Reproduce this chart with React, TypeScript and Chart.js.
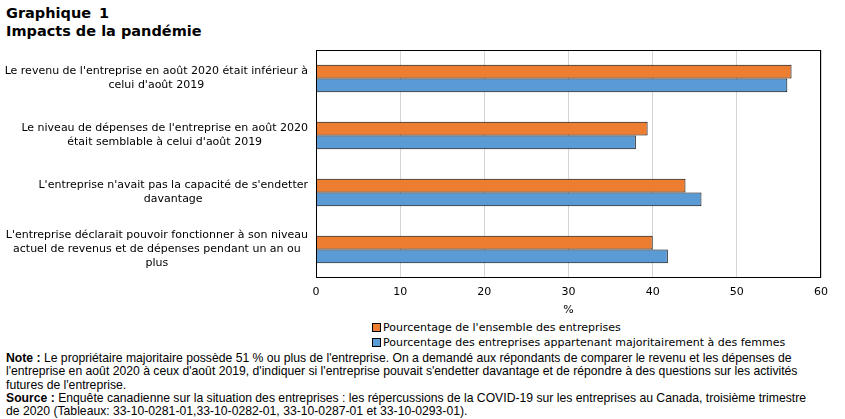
import React, { useEffect, useRef } from "react";
import { Chart, registerables } from "chart.js";

Chart.register(...registerables);

const titleLines = ["Graphique 1", "Impacts de la pandémie"];

const categories: string[][] = [
  ["Le revenu de l'entreprise en août 2020 était inférieur à", "celui d'août 2019"],
  ["Le niveau de dépenses de l'entreprise en août 2020", "était semblable à celui d'août 2019"],
  ["L'entreprise n'avait pas la capacité de s'endetter", "davantage"],
  [
    "L'entreprise déclarait pouvoir fonctionner à son niveau",
    "actuel de revenus et de dépenses pendant un an ou",
    "plus",
  ],
];

const seriesNames = [
  "Pourcentage de l'ensemble des entreprises",
  "Pourcentage des entreprises appartenant majoritairement à des femmes",
];

const allBusinesses = [56.5, 39.4, 43.9, 40.0];
const womenOwned = [56.0, 38.0, 45.8, 41.8];

const xMin = 0;
const xMax = 60;
const xStep = 10;
const xTitle = "%";

const colors = ["#ED7D31", "#5B9BD5"];

const FONT = "'DejaVu Sans', Verdana, sans-serif";

const labelPlugin = {
  id: "catLabels",
  afterDraw(chart: any) {
    const { ctx, chartArea } = chart;
    const yScale = chart.scales.y;
    ctx.save();
    ctx.font = `11px ${FONT}`;
    ctx.fillStyle = "#000";
    ctx.textAlign = "center";
    ctx.textBaseline = "middle";
    categories.forEach((lines, i) => {
      const yc = yScale.getPixelForValue(i);
      const maxW = Math.max(...lines.map((l) => ctx.measureText(l).width));
      const xc = chartArea.left - 8 - maxW / 2;
      lines.forEach((line, j) => {
        ctx.fillText(line, xc, yc + (j - (lines.length - 1) / 2) * 14);
      });
    });
    // plot border
    ctx.strokeStyle = "#000";
    ctx.lineWidth = 1;
    ctx.strokeRect(
      Math.round(chartArea.left) + 0.5,
      Math.round(chartArea.top) + 0.5,
      Math.round(chartArea.right - chartArea.left) - 1,
      Math.round(chartArea.bottom - chartArea.top) - 1
    );
    ctx.restore();
  },
};

function App() {
  const ref = useRef<HTMLCanvasElement | null>(null);

  useEffect(() => {
    if (!ref.current) return;
    const chart = new Chart(ref.current, {
      type: "bar",
      data: {
        labels: categories.map((c) => c.join(" ")),
        datasets: [
          {
            label: seriesNames[0],
            data: allBusinesses,
            backgroundColor: colors[0],
            borderColor: "#000",
            borderWidth: 1,
            categoryPercentage: 0.48,
            barPercentage: 1,
          },
          {
            label: seriesNames[1],
            data: womenOwned,
            backgroundColor: colors[1],
            borderColor: "#000",
            borderWidth: 1,
            categoryPercentage: 0.48,
            barPercentage: 1,
          },
        ],
      },
      options: {
        indexAxis: "y",
        animation: false,
        responsive: false,
        maintainAspectRatio: false,
        layout: { padding: { top: 10, right: 24, left: 0, bottom: 0 } },
        plugins: {
          legend: { display: false },
          tooltip: { enabled: false },
          title: { display: false },
        },
        scales: {
          y: {
            type: "category",
            grid: { display: false, drawTicks: false },
            border: { display: false },
            ticks: { display: false },
            afterFit(scale: any) {
              scale.width = 316;
            },
          },
          x: {
            type: "linear",
            min: xMin,
            max: xMax,
            grid: { color: "#d4d4d4", drawTicks: false, lineWidth: 1 },
            border: { display: false },
            ticks: {
              stepSize: xStep,
              color: "#000",
              padding: 8,
              font: { family: FONT, size: 11 },
            },
            title: {
              display: true,
              text: xTitle,
              color: "#000",
              font: { family: FONT, size: 11 },
              padding: { top: 4, bottom: 3 },
            },
            afterFit(scale: any) {
              scale.height = 42;
            },
          },
        },
      },
      plugins: [labelPlugin],
    });
    return () => chart.destroy();
  }, []);

  const noteStyle: React.CSSProperties = {
    position: "absolute",
    left: 6,
    top: 352,
    fontFamily: "'Liberation Sans', Arial, sans-serif",
    fontSize: 12.2,
    lineHeight: "13.3px",
    color: "#000",
    whiteSpace: "nowrap",
  };

  return (
    <div style={{ position: "fixed", left: 0, top: 0, width: 845, height: 419, background: "#fff", overflow: "hidden" }}>
      <div
        style={{
          position: "absolute",
          left: 6,
          top: 4,
          fontFamily: FONT,
          fontWeight: "bold",
          fontSize: 14.5,
          lineHeight: "18px",
          color: "#000",
        }}
      >
        <div style={{ wordSpacing: 3 }}>{titleLines[0]}</div>
        <div>{titleLines[1]}</div>
      </div>
      <canvas ref={ref} width={845} height={280} style={{ position: "absolute", left: 0, top: 40, width: 845, height: 280 }} />
      <div style={{ position: "absolute", left: 372, top: 320, fontFamily: FONT, fontSize: 11, lineHeight: "15px", color: "#000", whiteSpace: "nowrap" }}>
        {seriesNames.map((n, i) => (
          <div key={n} style={{ display: "flex", alignItems: "center" }}>
            <span style={{ display: "inline-block", width: 7, height: 7, background: colors[i], border: "1px solid #000", marginRight: 2 }} />
            <span>{n}</span>
          </div>
        ))}
      </div>
      <div style={noteStyle}>
        <div>
          <b>Note :</b> Le propriétaire majoritaire possède 51 % ou plus de l'entreprise. On a demandé aux répondants de comparer le revenu et les dépenses de
        </div>
        <div>
          l'entreprise en août 2020 à ceux d'août 2019, d'indiquer si l'entreprise pouvait s'endetter davantage et de répondre à des questions sur les activités
        </div>
        <div>futures de l'entreprise.</div>
        <div>
          <b>Source :</b> Enquête canadienne sur la situation des entreprises : les répercussions de la COVID-19 sur les entreprises au Canada, troisième trimestre
        </div>
        <div>de 2020 (Tableaux: 33-10-0281-01,33-10-0282-01, 33-10-0287-01 et 33-10-0293-01).</div>
      </div>
    </div>
  );
}

export default App;
